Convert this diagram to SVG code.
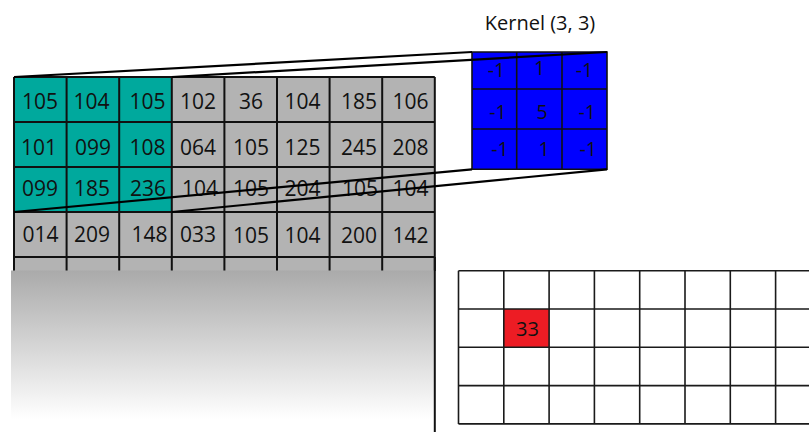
<svg xmlns="http://www.w3.org/2000/svg" width="809" height="432" viewBox="0 0 809 432">
<defs>
<linearGradient id="fade" x1="0" y1="0" x2="0" y2="1">
<stop offset="0" stop-color="#aaaaaa"/>
<stop offset="0.92" stop-color="#ffffff"/>
<stop offset="1" stop-color="#ffffff"/>
</linearGradient>
<style>
.num{font-family:"Open Sans","Liberation Sans",sans-serif;font-size:21px;fill:#111;text-anchor:middle}
.knum{font-family:"Open Sans","Liberation Sans",sans-serif;font-size:19.5px;fill:#111;text-anchor:middle}
.lbl{font-family:"Open Sans","Liberation Sans",sans-serif;font-size:20px;fill:#111;text-anchor:middle}
.grid{fill:none;stroke:#111;stroke-width:2}
.kgrid{fill:none;stroke:#111;stroke-width:1.6}
.ogrid{fill:none;stroke:#1a1a1a;stroke-width:1.6}
.conn{fill:none;stroke:#000;stroke-width:2.2}
</style>
</defs>
<rect width="809" height="432" fill="#ffffff"/>

<g id="input-grid">
<rect x="14" y="77" width="420.8" height="194" fill="#b3b3b3"/>
<rect x="14" y="77" width="157.8" height="135" fill="#00a99d"/>
<path class="grid" d="M14 77V271M66.6 77V271M119.2 77V271M171.8 77V271M224.4 77V271M277 77V271M329.6 77V271M382.2 77V271M434.8 77V271M14 77H434.8M14 122H434.8M14 167H434.8M14 212H434.8M14 257H434.8"/>
<g class="num">
<text x="40" y="108.5">105</text><text x="91.5" y="108.5">104</text><text x="147.5" y="108.5">105</text><text x="198" y="108.5">102</text><text x="251" y="108.5">36</text><text x="302.5" y="108.5">104</text><text x="359" y="108.5">185</text><text x="410.5" y="108.5">106</text>
<text x="39" y="155">101</text><text x="93" y="155">099</text><text x="147.5" y="155">108</text><text x="198" y="155">064</text><text x="251" y="155">105</text><text x="302.5" y="155">125</text><text x="359" y="155">245</text><text x="410.5" y="155">208</text>
<text x="40" y="195.5">099</text><text x="92" y="195.5">185</text><text x="148" y="195.5">236</text><text x="200" y="195.5">104</text><text x="251" y="196">105</text><text x="302.5" y="196">204</text><text x="360" y="196">105</text><text x="410.5" y="196">104</text>
<text x="40.5" y="242">014</text><text x="92" y="242">209</text><text x="149.5" y="242">148</text><text x="198" y="242">033</text><text x="251" y="242.5">105</text><text x="302.5" y="242.5">104</text><text x="359" y="242.5">200</text><text x="410.5" y="242.5">142</text>
</g>
<rect x="11" y="270.5" width="423" height="161.5" fill="url(#fade)"/>
<path class="grid" d="M434.8 257V432"/>
</g>

<g id="kernel">
<rect x="472" y="52" width="135" height="117.3" fill="#0000ff"/>
<path class="kgrid" d="M472 52H607V169.3H472ZM516.7 52V169.3M562 52V169.3M472 89H607M472 129H607"/>
<g class="knum">
<text x="496.5" y="77.3">-1</text><text x="539.5" y="75">1</text><text x="584.5" y="77.3">-1</text>
<text x="498" y="119.3">-1</text><text x="542" y="119">5</text><text x="587.3" y="119.3">-1</text>
<text x="500" y="156">-1</text><text x="544" y="155.5">1</text><text x="588.3" y="156">-1</text>
</g>
</g>

<g id="kernel-label">
<text class="lbl" x="540" y="30">Kernel (3, 3)</text>
</g>

<g id="output-grid">
<rect x="503.8" y="309" width="45.3" height="38.3" fill="#ed1c24"/>
<path class="ogrid" d="M458.5 270.7V423.9M503.8 270.7V423.9M549.1 270.7V423.9M594.4 270.7V423.9M639.7 270.7V423.9M685 270.7V423.9M730.3 270.7V423.9M775.6 270.7V423.9M820.9 270.7V423.9M458.5 270.7H820.9M458.5 309H820.9M458.5 347.3H820.9M458.5 385.6H820.9M458.5 423.9H820.9"/>
<text class="lbl" x="527.5" y="336">33</text>
</g>

<g id="connectors">
<line class="conn" x1="14" y1="77" x2="472" y2="52"/>
<line class="conn" x1="171.8" y1="77" x2="607" y2="52"/>
<line class="conn" x1="14" y1="212" x2="472" y2="169.3"/>
<line class="conn" x1="171.8" y1="212" x2="607" y2="169.3"/>
</g>
</svg>
